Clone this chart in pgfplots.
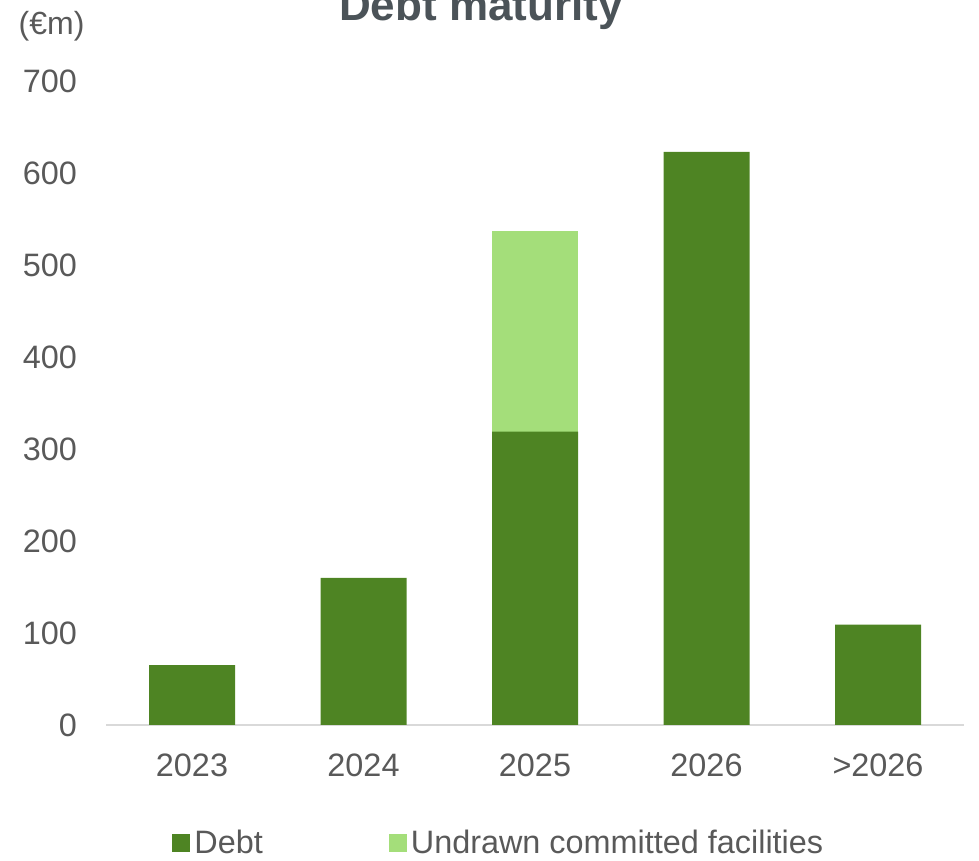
\documentclass[border=0pt]{standalone}
\usepackage{pgfplots}
\pgfplotsset{compat=1.18}
\usepackage{fontspec}
\setmainfont{Liberation Sans}
\definecolor{debt}{RGB}{78,132,35}
\definecolor{undrawn}{RGB}{164,222,122}
\definecolor{txt}{RGB}{89,89,89}
\definecolor{ttl}{RGB}{75,83,88}
\definecolor{axl}{RGB}{217,217,217}
\begin{document}
\begin{tikzpicture}
\useasboundingbox (0,0) rectangle (489.5pt,430.5pt);
\begin{axis}[
  at={(53.125pt,68pt)}, anchor=south west,
  scale only axis, width=428.75pt, height=322pt,
  ymin=0, ymax=700, xmin=-0.5, xmax=4.5,
  ybar stacked, bar width=43pt,
  xtick={0,1,2,3,4}, xticklabels={2023,2024,2025,2026,>2026},
  ytick={0,100,...,700},
  major tick length=0pt,
  axis x line*=bottom, axis y line*=left,
  y axis line style={draw=none},
  x axis line style={draw=axl, line width=1pt},
  /pgf/number format/assume math mode=true,
  tick label style={font=\fontsize{16.2}{19}\selectfont, text=txt},
  yticklabel style={anchor=east, xshift=-14.5pt, inner sep=0pt},
  xticklabel style={anchor=base, yshift=-26pt, inner sep=0pt},
  legend columns=2,
  legend cell align=left,
  legend style={at={(0.0767,-0.183)}, anchor=west, draw=none, fill=none, inner sep=0pt,
    font=\fontsize{16.2}{19}\selectfont, text=txt,
    /tikz/every even column/.append style={column sep=61pt}},
  legend image code/.code={\fill[#1] (0pt,-4.5pt) rectangle (9pt,4.5pt);},
]
\addplot+[fill=debt, draw=none] coordinates {(0,65) (1,160) (2,319) (3,623) (4,109)};
\addplot+[fill=undrawn, draw=none] coordinates {(0,0) (1,0) (2,218) (3,0) (4,0)};
\legend{Debt, Undrawn committed facilities}
\end{axis}
\node[font=\bfseries\fontsize{22}{26}\selectfont, text=ttl, anchor=base] at (240.5pt,420pt) {Debt maturity};
\node[font=\fontsize{16}{19}\selectfont, text=txt, anchor=center] at (25.8pt,417.5pt) {(€m)};
\end{tikzpicture}
\end{document}
